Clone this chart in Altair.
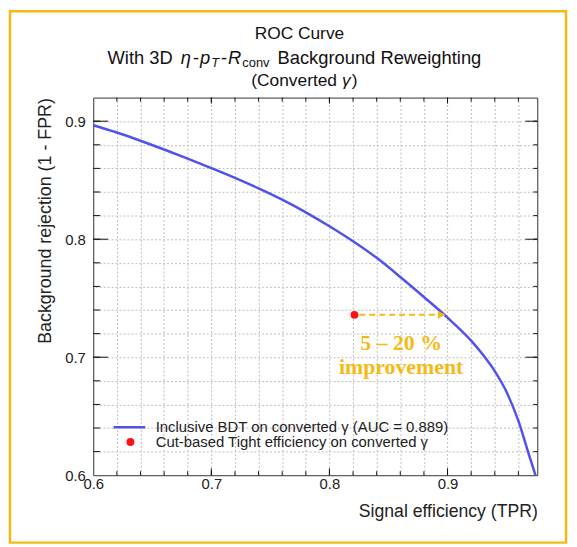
import altair as alt
import pandas as pd

# ---------------- data ----------------
tpr = [0.60, 0.62, 0.64, 0.66, 0.68, 0.70, 0.72, 0.74, 0.76, 0.78, 0.80, 0.82,
       0.84, 0.86, 0.88, 0.90, 0.92, 0.93, 0.94, 0.95, 0.96, 0.97, 0.9745]
rejection = [0.8966, 0.8904, 0.8834, 0.8760, 0.8683, 0.8603, 0.8520, 0.8431, 0.8335,
             0.8228, 0.8110, 0.7983, 0.7842, 0.7680, 0.7510, 0.7335, 0.7140, 0.7020,
             0.6882, 0.6705, 0.6460, 0.6140, 0.6000]

cut_tpr = [0.8212]
cut_rejection = [0.7359]

arrow_start = [0.8254]
arrow_end = [0.8982]
arrow_level = [0.7359]

note_text = ["5 – 20 %", "improvement"]
note_x = [0.8607, 0.8607]
note_y = [0.7124, 0.6914]

major_ticks = [0.6, 0.7, 0.8, 0.9]
x_minor = [0.62, 0.64, 0.66, 0.68, 0.70, 0.72, 0.74, 0.76, 0.78, 0.80, 0.82,
           0.84, 0.86, 0.88, 0.90, 0.92, 0.94, 0.96]
y_minor = [0.62, 0.64, 0.66, 0.68, 0.70, 0.72, 0.74, 0.76, 0.78, 0.80, 0.82,
           0.84, 0.86, 0.88, 0.90]
inner_major = [0.7, 0.8, 0.9]

line_label = "Inclusive BDT on converted γ (AUC = 0.889)"
point_label = "Cut-based Tight efficiency on converted γ"

# ---------------- styling ----------------
W, H = 448, 381
BLUE = "#5151EC"
RED = "#FF1010"
GOLD = "#F5B914"
FONT = "Liberation Sans"
INK = "#222222"
TICK = "#111111"

curve_df = pd.DataFrame({"tpr": tpr, "rej": rejection, "series": [line_label] * len(tpr)})
cut_df = pd.DataFrame({"tpr": cut_tpr, "rej": cut_rejection, "series": [point_label]})
arrow_df = pd.DataFrame({"x0": arrow_start, "x1": arrow_end, "y": arrow_level})
note_df = pd.DataFrame({"t": note_text, "x": note_x, "y": note_y})

xs = alt.Scale(domain=[0.6, 0.976], nice=False, zero=False)
ys = alt.Scale(domain=[0.6, 0.92], nice=False, zero=False)

grid_layer = alt.Chart(curve_df).mark_point(opacity=0).encode(
    x=alt.X("tpr:Q", scale=xs, axis=alt.Axis(
        orient="top", values=x_minor, grid=True, gridColor="#BDBDBD", gridDash=[2, 2],
        gridWidth=1, ticks=False, labels=False, domain=True, domainColor="#333333",
        title=None)),
    y=alt.Y("rej:Q", scale=ys, axis=alt.Axis(
        orient="right", values=y_minor, grid=True, gridColor="#BDBDBD", gridDash=[2, 2],
        gridWidth=1, ticks=False, labels=False, domain=True, domainColor="#333333",
        title=None)),
)


def x_ticks(values, y0, y1):
    return alt.Chart(pd.DataFrame({"v": values})).mark_rule(color=TICK, strokeWidth=1).encode(
        x=alt.X("v:Q", scale=xs, axis=None), y=alt.value(y0), y2=alt.value(y1))


def y_ticks(values, x0, x1):
    return alt.Chart(pd.DataFrame({"v": values})).mark_rule(color=TICK, strokeWidth=1).encode(
        y=alt.Y("v:Q", scale=ys, axis=None), x=alt.value(x0), x2=alt.value(x1))


tick_layers = [
    x_ticks(x_minor, H, H - 4), x_ticks(inner_major, H, H - 7),
    x_ticks(x_minor, 0, 4), x_ticks(inner_major, 0, 6),
    y_ticks(y_minor, 0, 7), y_ticks(inner_major, 0, 15),
    y_ticks(y_minor, W, W - 4), y_ticks(inner_major, W, W - 12),
]

curve = alt.Chart(curve_df).mark_line(strokeWidth=2.5, interpolate="monotone").encode(
    x=alt.X("tpr:Q", scale=xs, axis=alt.Axis(
        orient="bottom", values=major_ticks, format=".1f", ticks=False, grid=False,
        domain=True, domainColor="#333333", labelFont=FONT, labelFontSize=15,
        labelColor=INK, labelPadding=1, labelFlush=False,
        title="Signal efficiency (TPR)", titleFont=FONT, titleFontSize=17.8,
        titleFontWeight="normal", titleColor=INK, titleAnchor="end", titleAlign="right",
        titlePadding=12)),
    y=alt.Y("rej:Q", scale=ys, axis=alt.Axis(
        orient="left", values=major_ticks, format=".1f", ticks=False, grid=False,
        domain=True, domainColor="#333333", labelFont=FONT, labelFontSize=15,
        labelColor=INK, labelPadding=8, labelFlush=False,
        title="Background rejection (1 - FPR)", titleFont=FONT, titleFontSize=18,
        titleFontWeight="normal", titleColor=INK, titleAnchor="end", titlePadding=10)),
    color=alt.Color("series:N", scale=alt.Scale(domain=[line_label], range=[BLUE]),
                    legend=alt.Legend(orient="none", legendX=19, legendY=315, title=None,
                                      padding=0, symbolType="stroke", symbolSize=1024,
                                      symbolStrokeWidth=2.5, labelOffset=9, labelLimit=0,
                                      labelFont=FONT, labelFontSize=15, labelColor=INK)),
)

cut_point = alt.Chart(cut_df).mark_point(filled=True, size=64, opacity=1).encode(
    x=alt.X("tpr:Q", scale=xs, axis=None),
    y=alt.Y("rej:Q", scale=ys, axis=None),
    color=alt.Color("series:N", scale=alt.Scale(domain=[point_label], range=[RED]),
                    legend=alt.Legend(orient="none", legendX=30, legendY=340, title=None,
                                      padding=0, symbolType="circle", symbolSize=64,
                                      symbolOpacity=1, labelOffset=18, labelLimit=0,
                                      labelFont=FONT, labelFontSize=15, labelColor=INK)),
)

arrow_line = alt.Chart(arrow_df).mark_rule(color=GOLD, strokeWidth=2, strokeDash=[6, 4]).encode(
    x=alt.X("x0:Q", scale=xs, axis=None),
    x2="x1:Q",
    y=alt.Y("y:Q", scale=ys, axis=None),
)
arrow_head = alt.Chart(arrow_df).mark_point(shape="triangle-right", filled=True, size=70,
                                             color=GOLD, opacity=1, xOffset=-4).encode(
    x=alt.X("x1:Q", scale=xs, axis=None),
    y=alt.Y("y:Q", scale=ys, axis=None),
)
notes = alt.Chart(note_df).mark_text(font="Liberation Serif", fontWeight="bold", fontSize=22,
                                     color=GOLD, align="center", baseline="middle").encode(
    x=alt.X("x:Q", scale=xs, axis=None),
    y=alt.Y("y:Q", scale=ys, axis=None),
    text="t:N",
)

# ---------------- title built from fragments ----------------
AW = {' ': 278, 'W': 944, 'i': 222, 't': 278, 'h': 556, '3': 556, 'D': 722, '-': 333,
      'p': 556, 'T': 611, 'R': 722, 'c': 500, 'o': 556, 'n': 556, 'v': 500, 'B': 667,
      'a': 556, 'k': 500, 'g': 556, 'r': 333, 'u': 556, 'd': 556, 'e': 556, 'w': 722,
      'η': 556, '(': 333, ')': 333, 'C': 722, 'γ': 500}


def text_width(s, size):
    return sum(AW.get(ch, 556) for ch in s) * size / 1000.0


def frag(s, x, y, size=17, style="normal", align="left"):
    return alt.Chart(pd.DataFrame({"t": [s]})).mark_text(
        align=align, baseline="middle", font=FONT, fontSize=size, fontStyle=style,
        color="#111111").encode(x=alt.value(x), y=alt.value(y), text="t:N")


CX = 208
title_layers = [frag("ROC Curve", CX, -64, size=17.5, align="center")]

# (text, size, style, vertical shift, gap before)
line2 = [("With 3D", 18.5, "normal", 0, 0), ("η", 18.5, "italic", 0, 8),
         ("-", 18.5, "normal", 0, 2), ("p", 18.5, "italic", 0, 1),
         ("T", 13, "italic", 5, 1), ("-", 18.5, "normal", 0, 2),
         ("R", 18.5, "italic", 0, 1), ("conv", 13, "normal", 5, 1),
         ("Background Reweighting", 18.5, "normal", 0, 8)]
total = sum(text_width(s, sz) + g for s, sz, _, _, g in line2)
xpos = CX - 5 - total / 2
for s, sz, st, dy, g in line2:
    xpos += g
    title_layers.append(frag(s, xpos, -40 + dy, size=sz, style=st))
    xpos += text_width(s, sz)

line3 = [("(Converted", 17.5, "normal", 0), ("γ", 17.5, "italic", 5), (")", 17.5, "normal", 1)]
total = sum(text_width(s, sz) + g for s, sz, _, g in line3)
xpos = CX + 5 - total / 2
for s, sz, st, g in line3:
    xpos += g
    title_layers.append(frag(s, xpos, -17, size=sz, style=st))
    xpos += text_width(s, sz)

frame = alt.Chart(pd.DataFrame({"k": [0]})).mark_rect(
    fillOpacity=0, stroke=GOLD, strokeWidth=2.5).encode(
    x=alt.value(-84), x2=alt.value(477), y=alt.value(-87), y2=alt.value(449))

chart = alt.layer(
    grid_layer, *tick_layers,
    curve, cut_point, arrow_line, arrow_head, notes, frame, *title_layers
).resolve_scale(color="independent").properties(
    width=W, height=H,
    padding={"left": 86, "top": 88, "right": 32, "bottom": 68},
    autosize=alt.AutoSizeParams(type="none"),
    background="white",
).configure_view(stroke=None)

chart.save("out.html", embed_options={"renderer": "svg", "actions": False})
